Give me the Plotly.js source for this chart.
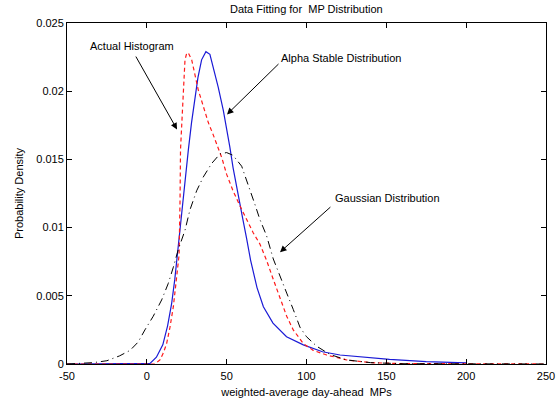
<!DOCTYPE html>
<html>
<head>
<meta charset="utf-8">
<script src="https://cdn.plot.ly/plotly-3.0.1.min.js"></script>
<style>
  html, body { margin: 0; padding: 0; background: #ffffff; }
  #chart { width: 559px; height: 401px; }
</style>
</head>
<body>
<div id="chart"></div>
<script>
// ---- Data ----
// Actual Histogram (red dashed)
const histX = [-50, 0, 5, 8.2, 10.3, 12.4, 14.5, 16.6, 18.7, 20.2, 20.8, 21.1, 21.8, 22.8, 23.9, 25, 26, 28.1, 30.15, 32.2, 35.35, 38.5, 41.6, 44, 47, 50, 54, 58.3, 62.5, 66.7, 70.8, 75, 79.2, 83.4, 87.6, 91.7, 98, 104.2, 112.6, 125, 140, 160, 250];
const histY = [0, 0, 0, 0.0003, 0.0008, 0.0015, 0.0027, 0.0042, 0.0066, 0.0080, 0.0120, 0.0157, 0.0174, 0.0201, 0.0223, 0.0228, 0.0228, 0.0223, 0.0213, 0.0201, 0.0189, 0.0177, 0.0168, 0.0161, 0.0151, 0.0139, 0.0127, 0.0116, 0.0106, 0.0096, 0.0088, 0.0076, 0.0062, 0.0048, 0.0035, 0.0025, 0.0015, 0.0010, 0.00066, 0.0003, 0.0001, 0.00003, 0];

// Alpha Stable Distribution (blue solid)
const alphaX = [-50, -30, 0, 2, 6, 10, 13, 15.5, 17.5, 19.7, 22.6, 26, 28, 30, 32, 34.3, 37, 39.5, 41.6, 44.7, 47.9, 50, 52, 54, 56, 58, 60, 62.5, 65, 69, 73, 79, 87.5, 98, 110, 121, 133, 152, 175, 196, 200];
const alphaY = [0, 0, 0, 0.00005, 0.0005, 0.0014, 0.0028, 0.0044, 0.0062, 0.0088, 0.0120, 0.0157, 0.0177, 0.0194, 0.0210, 0.0223, 0.0229, 0.0227, 0.0218, 0.0203, 0.0186, 0.0173, 0.0159, 0.0144, 0.0131, 0.0119, 0.0107, 0.0092, 0.0076, 0.0056, 0.0042, 0.0030, 0.0020, 0.0014, 0.0009, 0.00066, 0.00052, 0.00034, 0.00017, 0.0001, 0.00008];

// Gaussian Distribution (black dash-dot)
const gaussX = [-50, -40, -33.5, -25, -17, -10.5, -5.5, -1.2, 4, 9.3, 13.4, 16.6, 19.7, 23.9, 27, 31.2, 35.3, 40.6, 45.8, 50, 54, 59.4, 61.5, 64.6, 67.7, 70.8, 75, 79.2, 83.4, 87.6, 91.7, 95.9, 100, 106.4, 114.7, 125, 140, 160, 250];
const gaussY = [0, 0.00003, 0.0001, 0.00024, 0.0006, 0.0010, 0.0016, 0.0025, 0.0035, 0.0047, 0.0059, 0.0071, 0.0084, 0.0098, 0.0113, 0.0127, 0.0137, 0.0147, 0.0154, 0.0155, 0.0153, 0.0145, 0.0138, 0.0129, 0.0117, 0.0106, 0.0094, 0.0077, 0.0064, 0.0052, 0.0040, 0.0027, 0.0020, 0.0013, 0.0007, 0.0003, 0.0001, 0.00002, 0];

// Tick labels
const xTickVals = [-50, 0, 50, 100, 150, 200, 250];
const xTickText = ["-50", "0", "50", "100", "150", "200", "250"];
const yTickVals = [0, 0.005, 0.01, 0.015, 0.02, 0.025];
const yTickText = ["0", "0.005", "0.01", "0.015", "0.02", "0.025"];

// Annotation labels
const labelTexts = ["Actual Histogram", "Alpha Stable Distribution", "Gaussian Distribution"];
const labelX = [-36.8, 82.7, 116.6];
const labelY = [0.0233, 0.0224, 0.0122];
const arrowTailX = [-7.4, 83.4, 115.9];
const arrowTailY = [0.02265, 0.0221, 0.0116];
const arrowTipX = [18.9, 50.2, 83.4];
const arrowTipY = [0.0172, 0.0183, 0.0082];

const FONT = "Liberation Sans, Arial, sans-serif";

const traces = [
  { x: alphaX, y: alphaY, type: "scatter", mode: "lines", name: "Alpha Stable Distribution",
    line: { color: "#1a1ad6", width: 1.2, dash: "solid" } },
  { x: histX, y: histY, type: "scatter", mode: "lines", name: "Actual Histogram",
    line: { color: "#ff1a1a", width: 1.2, dash: "4px,3px" } },
  { x: gaussX, y: gaussY, type: "scatter", mode: "lines", name: "Gaussian Distribution",
    line: { color: "#000000", width: 1.0, dash: "8px,4px,1px,4px" } }
];

const annotations = [];
for (let i = 0; i < labelTexts.length; i++) {
  annotations.push({
    x: labelX[i], y: labelY[i], xref: "x", yref: "y",
    text: labelTexts[i], showarrow: false, xanchor: "left", yanchor: "middle",
    font: { family: FONT, size: 11, color: "#000" }
  });
  annotations.push({
    x: arrowTipX[i], y: arrowTipY[i], xref: "x", yref: "y",
    ax: arrowTailX[i], ay: arrowTailY[i], axref: "x", ayref: "y",
    text: "", showarrow: true, arrowhead: 2, arrowsize: 1.3, arrowwidth: 1,
    arrowcolor: "#000", standoff: 0, startstandoff: 0
  });
}

const layout = {
  width: 559, height: 401,
  margin: { l: 67, r: 13, t: 23, b: 37, pad: 0 },
  paper_bgcolor: "#ffffff", plot_bgcolor: "#ffffff",
  showlegend: false,
  font: { family: FONT, size: 11, color: "#000" },
  title: { text: "Data Fitting for  MP Distribution", x: 0.548, xanchor: "center",
           y: 0.976, yref: "container", yanchor: "middle",
           font: { family: FONT, size: 11, color: "#000" } },
  xaxis: {
    range: [-50, 250], tickmode: "array", tickvals: xTickVals, ticktext: xTickText,
    ticks: "inside", ticklen: 5, tickwidth: 1, tickcolor: "#000",
    ticklabelstandoff: 2,
    showline: true, linecolor: "#000", linewidth: 1, mirror: "ticks",
    showgrid: false, zeroline: false,
    tickfont: { family: FONT, size: 11, color: "#000" },
    title: { text: "weighted-average day-ahead  MPs", standoff: 7,
             font: { family: FONT, size: 11, color: "#000" } }
  },
  yaxis: {
    range: [0, 0.025], tickmode: "array", tickvals: yTickVals, ticktext: yTickText,
    ticks: "inside", ticklen: 5, tickwidth: 1, tickcolor: "#000",
    showline: true, linecolor: "#000", linewidth: 1, mirror: "ticks",
    showgrid: false, zeroline: false,
    tickfont: { family: FONT, size: 11, color: "#000" },
    title: { text: "Probability Density", standoff: 10,
             font: { family: FONT, size: 11, color: "#000" } }
  },
  annotations: annotations
};

Plotly.newPlot("chart", traces, layout, { displayModeBar: false, staticPlot: true });
</script>
</body>
</html>
